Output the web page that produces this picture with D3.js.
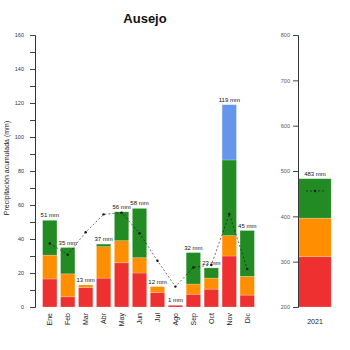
<!DOCTYPE html>
<html>
<head>
<meta charset="utf-8">
<script src="https://cdn.jsdelivr.net/npm/d3@7"></script>
<style>
  body { margin: 0; background: #fff; }
  svg { display: block; font-family: "Liberation Sans", Arial, sans-serif; }
</style>
</head>
<body>
<svg id="chart" width="350" height="350"></svg>
<script>
// Monthly precipitation, stacked by class (mm)
const months = ["Ene", "Feb", "Mar", "Abr", "May", "Jun", "Jul", "Ago", "Sep", "Oct", "Nov", "Dic"];
const redMm    = [16.5, 6, 11.5, 17, 26, 20, 8.5, 1, 7.5, 10.5, 30, 7];
const orangeMm = [14, 13.5, 1.5, 18.5, 13, 9, 3.5, 0, 6, 6.5, 12, 11];
const greenMm  = [20.5, 15.5, 0, 1.5, 17, 29, 0, 0, 18.5, 6, 44.5, 27];
const blueMm   = [0, 0, 0, 0, 0, 0, 0, 0, 0, 0, 32.5, 0];
// Reference monthly mean (dotted line)
const meanMm   = [37.4, 30.8, 44, 54.5, 55.5, 43.4, 27.2, 12, 23.3, 24.7, 54.7, 22.4];

// Annual accumulation
const years = ["2021"];
const yearRed = [311];
const yearOrange = [85];
const yearGreen = [87];
const yearBlue = [0];
const yearMean = [456];

const leftTicks = [0, 20, 40, 60, 80, 100, 120, 140, 160];
const rightTicks = [200, 300, 400, 500, 600, 700, 800];

const classes = ["red", "orange", "green", "blue"];
const colors = { red: "#ef3030", orange: "#ff8f00", green: "#238b23", blue: "#6596ec" };

const svg = d3.select("#chart");

const x = d3.scaleBand().domain(months).range([39, 258]).padding(0.2);
const y = d3.scaleLinear().domain([0, 160]).range([307, 35]);
const xr = d3.scaleBand().domain(years).range([296, 334]).padding(0.08);
const yr = d3.scaleLinear().domain([200, 800]).range([307, 35]);

// Title
svg.append("text")
  .attr("x", 145).attr("y", 23)
  .attr("text-anchor", "middle")
  .attr("font-size", 13).attr("font-weight", "bold")
  .attr("fill", "#111")
  .text("Ausejo");

// Y axis title
svg.append("text")
  .attr("transform", "translate(9,168) rotate(-90)")
  .attr("text-anchor", "middle")
  .attr("font-size", 7).attr("fill", "#222")
  .text("Precipitación acumulada (mm)");

// Monthly stacked data
const monthRows = months.map((m, i) => ({
  key: m, red: redMm[i], orange: orangeMm[i], green: greenMm[i], blue: blueMm[i]
}));
const stack = d3.stack().keys(classes);
const monthSeries = stack(monthRows);

const gBars = svg.append("g");
monthSeries.forEach(s => {
  gBars.selectAll(null)
    .data(s.filter(d => d[1] - d[0] > 0))
    .join("rect")
    .attr("x", d => x(d.data.key))
    .attr("width", x.bandwidth())
    .attr("y", d => y(d[1]))
    .attr("height", d => y(d[0]) - y(d[1]))
    .attr("fill", colors[s.key])
    .attr("stroke", "#fff").attr("stroke-opacity", 0.3).attr("stroke-width", 0.7);
});

// Total labels
const totals = monthRows.map(r => r.red + r.orange + r.green + r.blue);
svg.append("g").selectAll("text")
  .data(months)
  .join("text")
  .attr("x", (m) => x(m) + x.bandwidth() / 2)
  .attr("y", (m, i) => y(totals[i]) - 3)
  .attr("text-anchor", "middle")
  .attr("font-size", 6).attr("fill", "#111")
  .text((m, i) => Math.round(totals[i]) + " mm");

// Mean line
const line = d3.line()
  .x((d, i) => x(months[i]) + x.bandwidth() / 2)
  .y(d => y(d));
svg.append("path")
  .datum(meanMm)
  .attr("d", line)
  .attr("fill", "none").attr("stroke", "#111")
  .attr("stroke-width", 0.6).attr("stroke-dasharray", "2,2");
svg.append("g").selectAll("circle")
  .data(meanMm)
  .join("circle")
  .attr("cx", (d, i) => x(months[i]) + x.bandwidth() / 2)
  .attr("cy", d => y(d))
  .attr("r", 1.2).attr("fill", "#111");

// Left axis
const leftAxis = svg.append("g").attr("transform", "translate(35,0)")
  .call(d3.axisLeft(y).tickValues(d3.range(0, 161, 10)).tickSize(5)
    .tickFormat(d => leftTicks.includes(d) ? d : ""));
leftAxis.select(".domain").attr("stroke", "#333").attr("stroke-width", 1);
leftAxis.selectAll(".tick line").attr("stroke", "#444");
leftAxis.selectAll(".tick text").attr("font-size", 5.5).attr("fill", "#333")
  .attr("font-family", "Liberation Sans, Arial, sans-serif").attr("x", -11);

// Month labels, rotated
svg.append("g").selectAll("text")
  .data(months)
  .join("text")
  .attr("transform", m => `translate(${x(m) + x.bandwidth() / 2 + 2.5},313) rotate(-90)`)
  .attr("text-anchor", "end")
  .attr("font-size", 7).attr("fill", "#222")
  .text(m => m);

// Annual stacked bar (axis starts at 200)
const yearRows = years.map((yv, i) => ({
  key: yv, red: yearRed[i], orange: yearOrange[i], green: yearGreen[i], blue: yearBlue[i]
}));
const yearSeries = stack(yearRows);
const clip = v => Math.max(v, 200);
yearSeries.forEach(s => {
  svg.append("g").selectAll("rect")
    .data(s.filter(d => clip(d[1]) - clip(d[0]) > 0))
    .join("rect")
    .attr("x", d => xr(d.data.key))
    .attr("width", xr.bandwidth())
    .attr("y", d => yr(clip(d[1])))
    .attr("height", d => yr(clip(d[0])) - yr(clip(d[1])))
    .attr("fill", colors[s.key])
    .attr("stroke", "#fff").attr("stroke-opacity", 0.3).attr("stroke-width", 0.7);
});
const yearTotals = yearRows.map(r => r.red + r.orange + r.green + r.blue);
svg.append("g").selectAll("text")
  .data(years)
  .join("text")
  .attr("x", yv => xr(yv) + xr.bandwidth() / 2)
  .attr("y", (yv, i) => yr(yearTotals[i]) - 3)
  .attr("text-anchor", "middle")
  .attr("font-size", 6).attr("fill", "#111")
  .text((yv, i) => Math.round(yearTotals[i]) + " mm");

// Annual mean marker
years.forEach((yv, i) => {
  const cx = xr(yv) + xr.bandwidth() / 2;
  svg.append("line")
    .attr("x1", cx - 9).attr("x2", cx + 9)
    .attr("y1", yr(yearMean[i])).attr("y2", yr(yearMean[i]))
    .attr("stroke", "#111").attr("stroke-width", 0.6).attr("stroke-dasharray", "2,2");
  svg.append("circle")
    .attr("cx", cx).attr("cy", yr(yearMean[i])).attr("r", 1.2).attr("fill", "#111");
});

// Right axis
const rightAxis = svg.append("g").attr("transform", "translate(298,0)")
  .call(d3.axisLeft(yr).tickValues(rightTicks).tickSize(5));
rightAxis.select(".domain").attr("stroke", "#333").attr("stroke-width", 1);
rightAxis.selectAll(".tick line").attr("stroke", "#444");
rightAxis.selectAll(".tick text").attr("font-size", 5.5).attr("fill", "#555")
  .attr("font-family", "Liberation Sans, Arial, sans-serif").attr("x", -8);

// Year label
svg.append("g").selectAll("text")
  .data(years)
  .join("text")
  .attr("x", yv => xr(yv) + xr.bandwidth() / 2)
  .attr("y", 324)
  .attr("text-anchor", "middle")
  .attr("font-size", 7).attr("fill", "#222")
  .text(yv => yv);
</script>
</body>
</html>
